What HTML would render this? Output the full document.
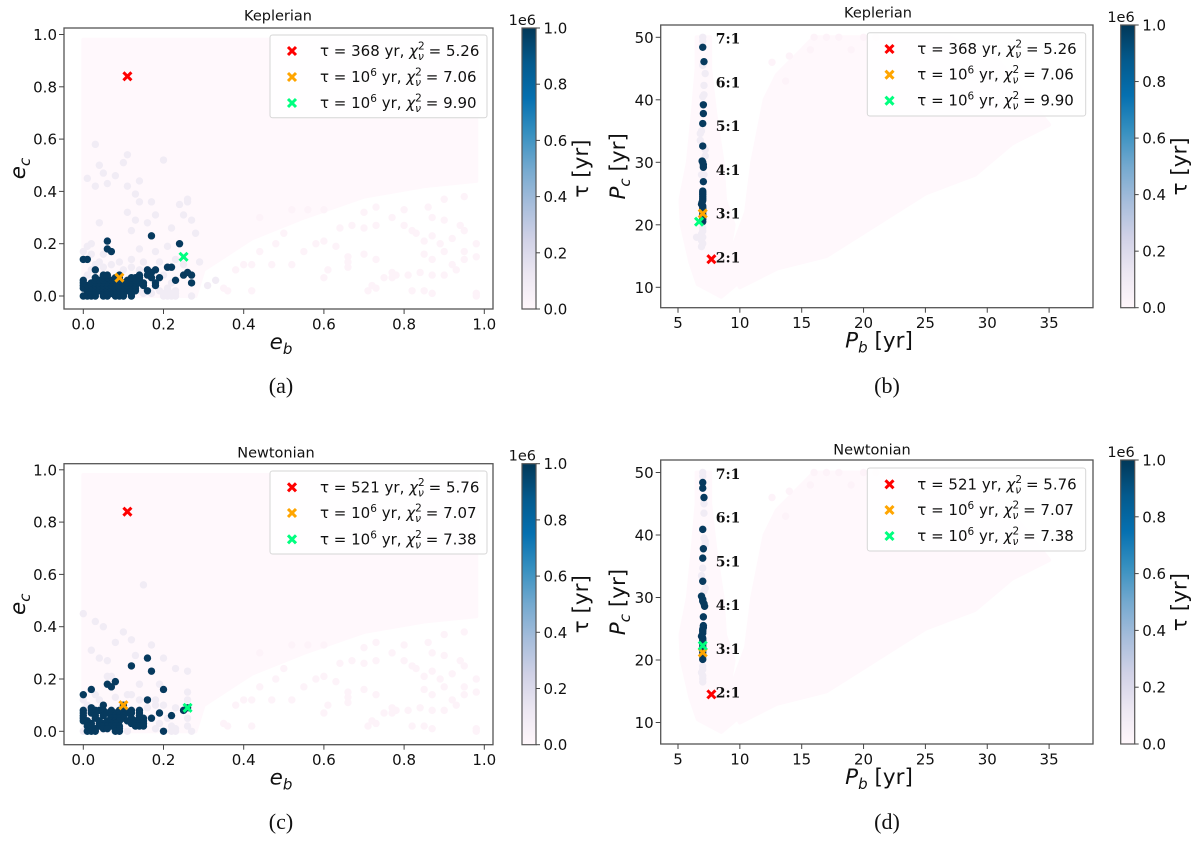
<!DOCTYPE html>
<html lang="en">
<head>
<meta charset="utf-8">
<title>Keplerian and Newtonian stability maps</title>
<style>
html,body{margin:0;padding:0;background:#fff}
svg{display:block}
text{font-family:"DejaVu Sans","Liberation Sans",sans-serif;fill:#111}
.cap{font-family:"Liberation Serif",serif;font-size:22px}
.res{font-family:"DejaVu Serif","Liberation Serif",serif;font-weight:bold;font-size:14px}
</style>
</head>
<body>
<svg id="figure" xmlns="http://www.w3.org/2000/svg" width="1200" height="843" viewBox="0 0 1200 843">
<defs>
<linearGradient id="pubu" x1="0" y1="1" x2="0" y2="0">
<stop offset="0" stop-color="#fff7fb"/><stop offset=".125" stop-color="#ece7f2"/><stop offset=".25" stop-color="#d0d1e6"/><stop offset=".375" stop-color="#a6bddb"/><stop offset=".5" stop-color="#74a9cf"/><stop offset=".625" stop-color="#3690c0"/><stop offset=".75" stop-color="#0570b0"/><stop offset=".875" stop-color="#045a8d"/><stop offset="1" stop-color="#023858"/>
</linearGradient>
</defs>
</svg>
<script>
// ---------- data ----------
const eTicks = [0, 0.2, 0.4, 0.6, 0.8, 1.0];
const pxTicks = [5, 10, 15, 20, 25, 30, 35];
const pyTicks = [10, 20, 30, 40, 50];
const cbTicks = [0, 0.2, 0.4, 0.6, 0.8, 1.0];
const resonances = [2, 3, 4, 5, 6, 7];

// dense faint sample regions [x, y]
const eRegion = [[0,0],[0.28,0],[0.3,0.1],[0.36,0.16],[0.42,0.22],[0.55,0.3],[0.7,0.38],[0.85,0.42],[0.98,0.44],[0.98,0.98],[0,0.98]];
const pStrip = [[6,14],[5.3,20],[5.2,24],[5.8,30],[6.2,38],[6.5,45],[6.5,50],[7.6,50],[7.6,45],[8,38],[8.6,30],[8.8,24],[9.5,20],[9,14],[10,11],[8.5,8.5],[6.6,10.5]];
const pWedge = [[10,10],[13,13],[17,15],[21,20],[25,25],[29,28],[32,33],[35,36],[33,41],[31,46],[27,50],[16,50],[13,44],[12,40],[11,30],[10.5,22],[9,14]];

const ePale = [[0.98,0],[0.98,0.01],[0.87,0.01],[0.85,0.02],[0.82,0.02],[0.73,0.03],[0.72,0.04],[0.71,0.02],[0.6,0.07],[0.61,0.1],[0.66,0.11],[0.66,0.13],[0.66,0.15],[0.7,0.16],[0.73,0.14],[0.77,0.09],[0.78,0.08],[0.75,0.07],[0.77,0.07],[0.81,0.08],[0.84,0.09],[0.87,0.08],[0.9,0.08],[0.93,0.1],[0.92,0.12],[0.95,0.14],[0.98,0.15],[0.98,0.2],[0.95,0.17],[0.9,0.17],[0.87,0.14],[0.85,0.16],[0.85,0.21],[0.83,0.24],[0.82,0.25],[0.87,0.23],[0.89,0.2],[0.92,0.22],[0.95,0.25],[0.94,0.27],[0.9,0.29],[0.87,0.3],[0.8,0.27],[0.77,0.3],[0.73,0.27],[0.7,0.26],[0.67,0.27],[0.64,0.26],[0.6,0.21],[0.63,0.19],[0.58,0.2],[0.55,0.17],[0.52,0.12],[0.47,0.12],[0.42,0.12],[0.38,0.1],[0.36,0.02],[0.35,0.03],[0.42,0.02],[0.4,0.12],[0.44,0.17],[0.48,0.2],[0.5,0.24],[0.44,0.3],[0.52,0.33],[0.56,0.33],[0.6,0.33],[0.7,0.32],[0.73,0.34],[0.8,0.33],[0.86,0.34],[0.9,0.37],[0.95,0.38]];

const keplerEFaint = [[0.03,0.58],[0.11,0.54],[0.2,0.52],[0.04,0.5],[0.1,0.51],[0.05,0.47],[0.08,0.46],[0.01,0.45],[0.06,0.43],[0.03,0.42],[0.11,0.42],[0.14,0.44],[0.13,0.39],[0.14,0.36],[0.17,0.36],[0.26,0.37],[0.26,0.36],[0.24,0.35],[0.11,0.32],[0.18,0.31],[0.13,0.29],[0.04,0.28],[0.16,0.28],[0.25,0.31],[0.27,0.29],[0.22,0.26],[0.12,0.25],[0.28,0.24],[0.14,0.18],[0.02,0.2],[0.01,0.19],[0,0.17],[0.05,0.16],[0.04,0.13],[0.09,0.13],[0.12,0.14],[0.18,0.17],[0.21,0.19],[0.23,0.14],[0.29,0.13],[0.33,0.06],[0.31,0.04],[0.27,0],[0.2,0],[0.21,0],[0.22,0],[0.23,0],[0.2,0.01],[0.22,0.01],[0.23,0.01],[0.19,0.02],[0.21,0.02],[0.23,0.02],[0.15,0.01],[0.17,0.01],[0.14,0.02],[0.02,0.1],[0.05,0.11],[0.07,0.12],[0.1,0.1],[0.12,0.11],[0.14,0.1],[0.19,0.13],[0.01,0.08],[0.03,0.12],[0.15,0.13],[0.2,0.08],[0.22,0.05],[0.21,0.03],[0.25,0.12],[0.02,0.16]];

const keplerEDark = [[0.06,0.21],[0.06,0.18],[0.07,0.17],[0.17,0.23],[0.24,0.2],[0,0.14],[0.01,0.14],[0.03,0.1],[0.21,0.11],[0.22,0.11],[0.16,0.1],[0.18,0.1],[0.17,0.09],[0.16,0.08],[0.17,0.07],[0.19,0.07],[0.18,0.05],[0.18,0.04],[0.16,0.02],[0.23,0.06],[0.25,0.08],[0.26,0.09],[0.27,0.08],[0.27,0.05],
[0,0],[0.01,0],[0.02,0],[0.03,0],[0.05,0],[0.06,0],[0.08,0],[0.09,0],[0.1,0],[0.12,0],
[0.02,0.01],[0.03,0.01],[0.05,0.01],[0.06,0.01],[0.07,0.01],[0.08,0.01],[0.09,0.01],[0.1,0.01],[0.12,0.01],
[0.01,0.02],[0.02,0.02],[0.03,0.02],[0.04,0.02],[0.06,0.02],[0.07,0.02],[0.08,0.02],[0.09,0.02],[0.1,0.02],[0.11,0.02],[0.12,0.02],[0.13,0.02],
[0,0.03],[0.01,0.03],[0.02,0.03],[0.03,0.03],[0.04,0.03],[0.05,0.03],[0.06,0.03],[0.07,0.03],[0.08,0.03],[0.09,0.03],[0.1,0.03],[0.11,0.03],[0.12,0.03],[0.13,0.03],
[0,0.04],[0.01,0.04],[0.02,0.04],[0.03,0.04],[0.04,0.04],[0.05,0.04],[0.06,0.04],[0.07,0.04],[0.08,0.04],[0.09,0.04],[0.1,0.04],[0.11,0.04],[0.12,0.04],[0.13,0.04],[0.15,0.04],
[0,0.05],[0.02,0.05],[0.03,0.05],[0.04,0.05],[0.05,0.05],[0.06,0.05],[0.07,0.05],[0.08,0.05],[0.1,0.05],[0.11,0.05],[0.12,0.05],[0.13,0.05],[0.14,0.05],[0.15,0.05],
[0,0.06],[0.03,0.06],[0.04,0.06],[0.05,0.06],[0.07,0.06],[0.08,0.06],[0.09,0.06],[0.11,0.06],[0.12,0.06],[0.13,0.06],[0.14,0.06],
[0.03,0.07],[0.05,0.07],[0.06,0.07],[0.08,0.07],[0.09,0.07],[0.12,0.07],[0.13,0.07],[0.14,0.07],
[0.05,0.08],[0.06,0.08],[0.09,0.08],[0.14,0.08]];

const newtonEFaint = [[0.04,0.28],[0.13,0.29],[0.06,0.21],[0.07,0.21],[0.14,0.18],[0.19,0.18],[0.26,0.23],[0.23,0.24],[0.26,0.15],[0.11,0.14],[0.12,0.14],[0.18,0.12],[0.03,0.14],[0,0.12],[0.26,0.12],[0.23,0.09],[0.26,0.05],[0.22,0.02],[0.23,0.01],[0.27,0],[0.26,0.02],[0.22,0],[0.23,0],[0.16,0.09],[0.18,0.1],[0,0.45],[0.03,0.42],[0.05,0.4],[0.1,0.38],[0.15,0.56],[0.12,0.35],[0.08,0.34],[0.17,0.33],[0.02,0.31],[0.2,0.28],[0.06,0.27],[0,0],[0.05,0.02],[0.11,0],[0.01,0.1],[0.04,0.12],[0.08,0.13],[0.14,0.12],[0.2,0.1],[0.21,0.05],[0.19,0.03],[0.18,0.01]];

const newtonEDark = [[0.16,0.28],[0.12,0.25],[0.17,0.23],[0.08,0.19],[0.06,0.18],[0.07,0.17],[0.02,0.16],[0.2,0.16],[0,0.14],[0.16,0.12],[0.02,0.09],[0.05,0.1],[0.04,0.08],[0.1,0.1],[0.14,0.08],[0.19,0.07],[0.22,0.06],[0.25,0.08],[0.26,0.09],[0.2,0],
[0,0.08],[0.02,0.08],[0.03,0.08],[0.05,0.08],[0.07,0.08],[0.09,0.08],[0.1,0.08],[0.12,0.08],
[0,0.07],[0.02,0.07],[0.03,0.07],[0.05,0.07],[0.06,0.07],[0.07,0.07],[0.08,0.07],[0.09,0.07],[0.11,0.07],[0.12,0.07],[0.14,0.07],
[0,0.06],[0.03,0.06],[0.05,0.06],[0.07,0.06],[0.08,0.06],[0.09,0.06],[0.1,0.06],[0.14,0.06],
[0,0.05],[0.03,0.05],[0.07,0.05],[0.08,0.05],[0.09,0.05],[0.1,0.05],[0.12,0.05],[0.14,0.05],[0.15,0.05],[0.17,0.05],
[0,0.04],[0.01,0.04],[0.04,0.04],[0.06,0.04],[0.07,0.04],[0.08,0.04],[0.09,0.04],[0.11,0.04],[0.12,0.04],[0.13,0.04],[0.14,0.04],[0.15,0.04],
[0.01,0.03],[0.02,0.03],[0.04,0.03],[0.05,0.03],[0.07,0.03],[0.08,0.03],[0.12,0.03],[0.13,0.03],[0.14,0.03],[0.15,0.03],
[0.01,0.02],[0.02,0.02],[0.04,0.02],[0.05,0.02],[0.06,0.02],[0.07,0.02],[0.08,0.02],[0.09,0.02],[0.13,0.02],[0.14,0.02],[0.15,0.02],
[0.02,0.01],[0.03,0.01],[0.05,0.01],[0.06,0.01],[0.08,0.01],[0.09,0.01],
[0.01,0],[0.02,0],[0.03,0],[0.08,0],[0.09,0]];

const pPale = [[15.7,48],[16,50],[17,50],[18,50],[19,48],[20,50],[21,50],[12.6,46],[13.7,43],[14,47]];
const keplerPFaint = [[7,50],[7,49.4],[7,45.5],[7.2,44.2],[7.1,42.3],[7.1,40.8],[7,40.5],[6.9,35],[6.8,34.6],[6.8,33.5],[7.2,32],[7.2,31],[6.9,28],[7.1,28],[7,19.5],[7,19],[6.9,18.5],[7,18],[6.9,17.5],[7,17],[6.9,16.5],[6.5,18]];
const keplerPDark = [[7,48.4],[7.1,46.1],[7.05,39.2],[7.05,37.8],[7,36.2],[7,32.6],[6.95,30.2],[7,30],[7.05,29.6],[7.05,29.2],[7.05,26.9],[7,25.4],[7,25.1],[7,24.8],[7,24.5],[7,24.2],[7,23.9],[6.95,23.6],[6.9,23.3],[7,23],[7,22.7],[7,22.4],[7,22.1],[7,21.7],[7,21.3],[7,20.9],[7,20.5]];
const newtonPFaint = [[7,50],[7,49.4],[7.1,45],[7.1,43.5],[7.1,39.5],[7.2,39],[7.2,38.5],[7,34.7],[6.9,33.5],[7.2,31.5],[7.1,31],[7,19],[7,18.5],[6.9,18],[7,17.5],[7,17],[7,16.5]];
const newtonPDark = [[7,48.4],[7,47.5],[7.1,46],[7,40.9],[7.05,37.8],[7,36.3],[7,32.6],[6.9,30.2],[7,29.7],[7,29.4],[7.1,29],[7.15,28.6],[7.05,26.9],[7.05,25.5],[7.05,25.2],[7,24.9],[7,24.6],[7,24.3],[6.9,23.8],[7,23.5],[7,23.2],[7,22.9],[7,22.5],[7,22.1],[7,21.6],[7,21.2],[7,20.6],[7,20.1]];

const markerColors = ["#ff0000", "#ffa500", "#00ff7f"];
const keplerEBest = [[0.11,0.84],[0.09,0.07],[0.25,0.15]];
const keplerPBest = [[7.7,14.5],[7,21.8],[6.7,20.5]];
const newtonEBest = [[0.11,0.84],[0.1,0.1],[0.26,0.09]];
const newtonPBest = [[7.7,14.5],[7,21.2],[7,22.3]];
const keplerTau = ["368", "6", "6"];
const keplerChi = ["5.26", "7.06", "9.90"];
const newtonTau = ["521", "6", "6"];
const newtonChi = ["5.76", "7.07", "7.38"];

// ---------- drawing ----------
const NS = "http://www.w3.org/2000/svg";
const fig = document.getElementById("figure");
const TICK = 15;
function mk(tag, parent, attrs) {
  const el = document.createElementNS(NS, tag);
  for (const k in attrs) el.setAttribute(k, attrs[k]);
  parent.appendChild(el);
  return el;
}
function label(parent, name, x, y, html, size, anchor, rot, cls) {
  const a = {x: x, y: y, "font-size": size, "text-anchor": anchor || "middle"};
  if (rot) a.transform = "rotate(-90 " + x + " " + y + ")";
  if (cls) a.class = cls;
  const t = mk("text", parent, a);
  t.innerHTML = html;
  
  
  return t;
}
function dots(g, pts, sx, sy, fill, name) {
  pts.forEach(function (p) {
    const c = mk("circle", g, {cx: sx(p[0]), cy: sy(p[1]), r: 3.7, fill: fill});
    
    
  });
}
function region(g, pts, sx, sy) {
  const poly = mk("polygon", g, {points: pts.map(function (p) { return sx(p[0]) + "," + sy(p[1]); }).join(" "), fill: "#fff8fc", stroke: "#fff8fc", "stroke-width": 4, "stroke-linejoin": "round"});
  
  
}

function panel(cfg) {
  const g = mk("g", fig, {});
  
  
  const sx = function (v) { return cfg.x0 + (v - cfg.xv0) * cfg.xk; };
  const sy = function (v) { return cfg.y0 - (v - cfg.yv0) * cfg.yk; };
  const L = cfg.L, R = cfg.R, T = cfg.T, B = cfg.B;

  cfg.regions.forEach(function (r) { region(g, r, sx, sy); });
  dots(g, cfg.pale, sx, sy, "#fdf3f9", "low-lifetime-point");
  dots(g, cfg.faint, sx, sy, "#f1ecf5", "mid-lifetime-point");
  dots(g, cfg.dark, sx, sy, "#073a5e", "stable-point");

  cfg.best.forEach(function (p, i) {
    const x = sx(p[0]), y = sy(p[1]), d = 4;
    const m = mk("path", g, {d: "M" + (x - d) + " " + (y - d) + "L" + (x + d) + " " + (y + d) + "M" + (x - d) + " " + (y + d) + "L" + (x + d) + " " + (y - d), stroke: markerColors[i], "stroke-width": 3, fill: "none"});
    
    
  });

  if (cfg.resonance) {
    resonances.forEach(function (r) {
      label(g, "resonance-label", sx(8.05), sy(7 * r), r + ":1", 14, "start", false, "res");
    });
  }

  const frame = mk("rect", g, {x: L, y: T, width: R - L, height: B - T, fill: "none", stroke: "#555", "stroke-width": 1.3});
  
  

  cfg.xt.forEach(function (v) {
    const x = sx(v);
    const t = mk("line", g, {x1: x, x2: x, y1: B, y2: B + 5, stroke: "#444", "stroke-width": 1});
    
    
    label(g, "x-tick-label", x, B + 20.5, cfg.fmt(v), TICK);
  });
  cfg.yt.forEach(function (v) {
    const y = sy(v);
    const t = mk("line", g, {x1: L - 5, x2: L, y1: y, y2: y, stroke: "#444", "stroke-width": 1});
    
    
    label(g, "y-tick-label", L - 7, y + 5.5, cfg.fmt(v), TICK, "end");
  });

  label(g, "panel-title", cfg.tx, cfg.ty, cfg.title, 14.5);
  label(g, "x-axis-title", cfg.xlx, B + 40, cfg.xl, 21.5);
  label(g, "y-axis-title", cfg.ylx, (T + B) / 2, cfg.yl, 21.5, "middle", true);
  label(g, "panel-caption", cfg.capx, cfg.capy, cfg.cap, 22, "middle", false, "cap");

  // legend
  const lg = mk("g", g, {});
  
  
  const box = mk("rect", lg, {x: cfg.lx, y: cfg.ly, width: cfg.lw, height: cfg.lh, rx: 2.5, fill: "#fff", "fill-opacity": 0.8, stroke: "#d6d6d6", "stroke-width": 1});
  
  
  cfg.rows.forEach(function (ry, i) {
    const d = 4, mx = cfg.lmx;
    const m = mk("path", lg, {d: "M" + (mx - d) + " " + (ry - d) + "L" + (mx + d) + " " + (ry + d) + "M" + (mx - d) + " " + (ry + d) + "L" + (mx + d) + " " + (ry - d), stroke: markerColors[i], "stroke-width": 3, fill: "none"});
    
    
    const tau = cfg.tau[i] === "6" ? '10<tspan dy="-6" font-size="10.5">6</tspan><tspan dy="6"> yr, </tspan>' : cfg.tau[i] + " yr, ";
    const html = "τ = " + tau + '<tspan font-style="italic">χ</tspan><tspan dy="-6.5" font-size="10.5">2</tspan><tspan dx="-6.7" dy="10.5" font-size="10.5" font-style="italic">ν</tspan><tspan dy="-4"> = ' + cfg.chi[i] + "</tspan>";
    label(lg, "legend-entry", cfg.ltx, ry + 5, html, TICK, "start");
  });

  // colour bar
  const cb = mk("g", g, {});
  
  
  const bar = mk("rect", cb, {x: cfg.cx, y: T, width: 14, height: B - T, fill: "url(#pubu)", stroke: "#555", "stroke-width": 1.2});
  
  
  cbTicks.forEach(function (v) {
    const y = B - v * (B - T);
    const t = mk("line", cb, {x1: cfg.cx + 14, x2: cfg.cx + 18, y1: y, y2: y, stroke: "#444", "stroke-width": 1});
    
    
    label(cb, "colorbar-tick-label", cfg.cx + 21.5, y + 5.5, v.toFixed(1), TICK, "start");
  });
  label(cb, "colorbar-offset", cfg.cx + 14, T - 3, "1e6", 14.5, "end");
  label(cb, "colorbar-title", cfg.cx + 66, (T + B) / 2, "τ [yr]", 21.5, "middle", true);
}

const f1 = function (v) { return v.toFixed(1); };
const f0 = function (v) { return String(v); };
const eBase = {x0: 83.3, xv0: 0, xk: 401, yv0: 0, yk: 261.5, L: 64, R: 493, xt: eTicks, yt: eTicks, fmt: f1, regions: [eRegion], pale: ePale, resonance: false, xlx: 281, capx: 281, ylx: 25, cx: 522, xl: '<tspan font-style="italic">e</tspan><tspan font-style="italic" font-size="15" dy="5">b</tspan>', yl: '<tspan font-style="italic">e</tspan><tspan font-style="italic" font-size="15" dy="5">c</tspan>', lx: 270, lw: 217, lmx: 292, ltx: 320};
const pBase = {x0: 678, xv0: 5, xk: 12.37, yv0: 20, yk: 6.25, L: 660.7, R: 1093, xt: pxTicks, yt: pyTicks, fmt: f0, regions: [pStrip, pWedge], pale: pPale, resonance: true, xlx: 879, capx: 887, ylx: 625, cx: 1120.7, xl: '<tspan font-style="italic">P</tspan><tspan font-style="italic" font-size="15" dy="5">b</tspan><tspan dy="-5"> [yr]</tspan>', yl: '<tspan font-style="italic">P</tspan><tspan font-style="italic" font-size="15" dy="5">c</tspan><tspan dy="-5"> [yr]</tspan>', lx: 867.3, lw: 218.4, lmx: 889.5, ltx: 917.3};

panel(Object.assign({}, eBase, {name: "panel-a-keplerian-eccentricity", y0: 296, T: 28, B: 309, tx: 278, ty: 20.5, title: "Keplerian", capy: 393, cap: "(a)", faint: keplerEFaint, dark: keplerEDark, best: keplerEBest, ly: 35, lh: 82.7, rows: [51, 77, 103], tau: keplerTau, chi: keplerChi}));
panel(Object.assign({}, pBase, {name: "panel-b-keplerian-period", y0: 224.8, T: 25, B: 307.7, tx: 878, ty: 17.5, title: "Keplerian", capy: 393, cap: "(b)", faint: keplerPFaint, dark: keplerPDark, best: keplerPBest, ly: 32.7, lh: 83.3, rows: [49, 74.7, 100.7], tau: keplerTau, chi: keplerChi}));
panel(Object.assign({}, eBase, {name: "panel-c-newtonian-eccentricity", y0: 731.3, T: 463.7, B: 744.7, tx: 276, ty: 457.5, title: "Newtonian", capy: 829, cap: "(c)", faint: newtonEFaint, dark: newtonEDark, best: newtonEBest, ly: 471, lh: 83, rows: [487.3, 513, 539.3], tau: newtonTau, chi: newtonChi}));
panel(Object.assign({}, pBase, {name: "panel-d-newtonian-period", y0: 660, T: 460, B: 744, tx: 872, ty: 454.5, title: "Newtonian", capy: 829, cap: "(d)", faint: newtonPFaint, dark: newtonPDark, best: newtonPBest, ly: 468, lh: 83, rows: [484.3, 510, 536], tau: newtonTau, chi: newtonChi}));
</script>
</body>
</html>
